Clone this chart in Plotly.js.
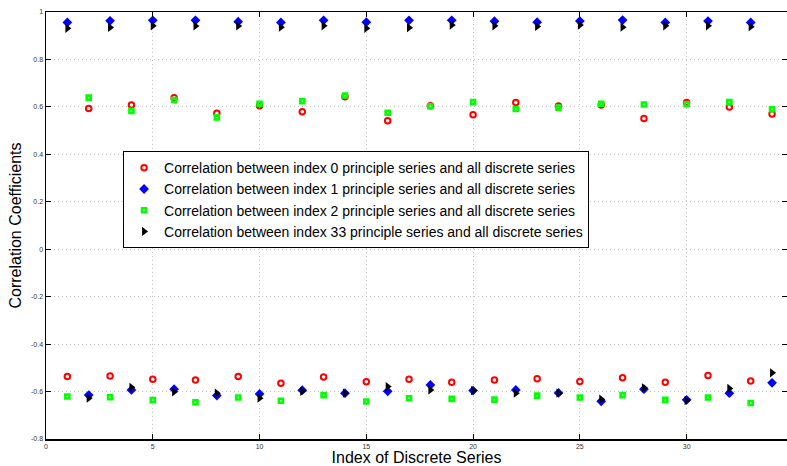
<!DOCTYPE html>
<html>
<head>
<meta charset="utf-8">
<script src="https://cdn.plot.ly/plotly-3.0.1.min.js"></script>
<style>html,body{margin:0;padding:0;background:#fff}#chart{width:787px;height:466px}</style>
</head>
<body>
<div id="chart"></div>
<script>
const indices = [1,2,3,4,5,6,7,8,9,10,11,12,13,14,15,16,17,18,19,20,21,22,23,24,25,26,27,28,29,30,31,32,33,34];
const seriesNames = [
  "Correlation between index 0 principle series and all discrete series",
  "Correlation between index 1 principle series and all discrete series",
  "Correlation between index 2 principle series and all discrete series",
  "Correlation between index 33 principle series and all discrete series"
];
const corrIndex0 = [-0.537,0.593,-0.534,0.608,-0.548,0.638,-0.551,0.573,-0.537,0.605,-0.565,0.580,-0.539,0.643,-0.559,0.542,-0.548,0.605,-0.561,0.567,-0.551,0.618,-0.546,0.604,-0.558,0.608,-0.542,0.551,-0.561,0.618,-0.532,0.600,-0.556,0.570];
const corrIndex1 = [0.956,-0.615,0.963,-0.593,0.965,-0.590,0.965,-0.617,0.959,-0.610,0.956,-0.594,0.965,-0.607,0.957,-0.599,0.965,-0.572,0.965,-0.596,0.961,-0.593,0.957,-0.606,0.962,-0.641,0.966,-0.590,0.956,-0.635,0.962,-0.607,0.956,-0.563];
const corrIndex2 = [-0.621,0.639,-0.624,0.583,-0.636,0.629,-0.645,0.556,-0.625,0.613,-0.639,0.624,-0.615,0.648,-0.642,0.575,-0.628,0.603,-0.631,0.620,-0.634,0.591,-0.617,0.597,-0.625,0.613,-0.615,0.610,-0.635,0.611,-0.625,0.620,-0.648,0.590];
const corrIndex33 = [0.931,-0.628,0.935,-0.582,0.942,-0.601,0.941,-0.607,0.941,-0.628,0.936,-0.599,0.942,-0.607,0.931,-0.579,0.934,-0.593,0.945,-0.596,0.942,-0.607,0.939,-0.607,0.945,-0.632,0.936,-0.584,0.942,-0.638,0.942,-0.587,0.938,-0.521];
const yTickVals = [-0.8,-0.6,-0.4,-0.2,0,0.2,0.4,0.6,0.8,1];
const yTickText = ["-0.8","-0.6","-0.4","-0.2","0","0.2","0.4","0.6","0.8","1"];
const xTickVals = [0,5,10,15,20,25,30];

const traces = [
  {x: indices, y: corrIndex0, name: seriesNames[0], type: 'scatter', mode: 'markers',
   marker: {symbol: 'circle-open', size: 5.5, color: '#ff0000', line: {width: 2, color: '#ff0000'}}},
  {x: indices, y: corrIndex1, name: seriesNames[1], type: 'scatter', mode: 'markers',
   marker: {symbol: 'diamond', size: 7.5, color: '#0000ff', line: {width: 0}}},
  {x: indices, y: corrIndex2, name: seriesNames[2], type: 'scatter', mode: 'markers',
   marker: {symbol: 'square-open', size: 4, color: '#00ff00', line: {width: 2.6, color: '#00ff00'}}},
  {x: indices, y: corrIndex33, name: seriesNames[3], type: 'scatter', mode: 'markers',
   marker: {symbol: 'triangle-right', size: 8, color: '#000000', line: {width: 0}}}
];

const axisCommon = {
  showline: true, linecolor: '#000', linewidth: 1.5, mirror: 'ticks',
  ticks: 'inside', ticklen: 5, tickwidth: 1, tickcolor: '#000',
  showgrid: true, gridcolor: '#c4c4c4', griddash: '1px,3px', gridwidth: 1,
  zeroline: false, automargin: false,
  tickfont: {family: 'Liberation Sans, Arial, sans-serif', size: 7, color: '#333'}
};

const layout = {
  width: 787, height: 466,
  margin: {l: 46, r: 0, t: 12, b: 27},
  paper_bgcolor: '#fff', plot_bgcolor: '#fff',
  font: {family: 'Liberation Sans, Arial, sans-serif', color: '#000'},
  showlegend: true,
  xaxis: Object.assign({}, axisCommon, {
    range: [0, 34.7], tickvals: xTickVals,
    title: {text: 'Index of Discrete Series', font: {size: 16, color: '#000'}, standoff: 2}
  }),
  yaxis: Object.assign({}, axisCommon, {
    range: [-0.8, 1], tickvals: yTickVals, ticktext: yTickText,
    title: {text: 'Correlation Coefficients', font: {size: 16, color: '#000'}, standoff: 5}
  }),
  legend: {
    x: 0.104, y: 0.674, xanchor: 'left', yanchor: 'top',
    bgcolor: '#fff', bordercolor: '#000', borderwidth: 1,
    font: {size: 14, color: '#000'}, itemwidth: 30
  }
};

Plotly.newPlot('chart', traces, layout, {displayModeBar: false, staticPlot: true});
</script>
</body>
</html>
